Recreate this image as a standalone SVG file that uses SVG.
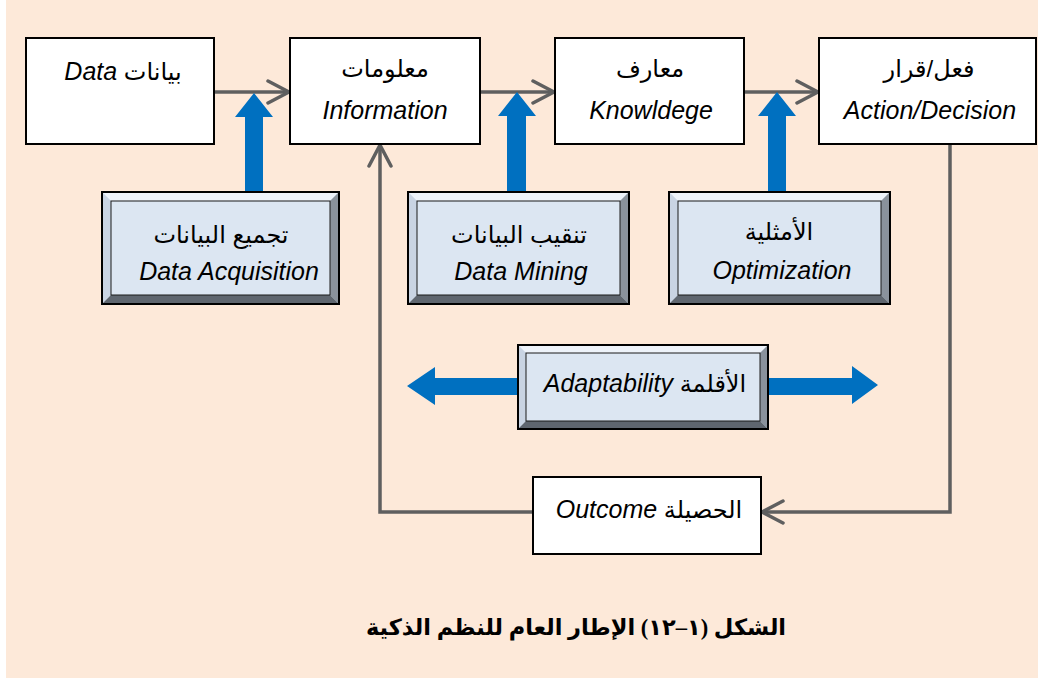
<svg xmlns="http://www.w3.org/2000/svg" width="1038" height="678" viewBox="0 0 1038 678">
  <style>
    .box { fill: #ffffff; stroke: #000000; stroke-width: 2; }
    .bev-out { fill: #dce6f2; stroke: #000000; stroke-width: 2; }
    .bev-in { fill: #dce6f2; stroke: #1a1a1a; stroke-width: 1; }
    .bt { fill: #eef3fa; }
    .bl { fill: #c9d4e3; }
    .br { fill: #8a929c; }
    .bb { fill: #5f666f; }
    .conn { fill: none; stroke: #5f5f5f; stroke-width: 3.5; }
    .blue { fill: #0070c0; }
    .t { font-family: "Liberation Sans", "DejaVu Sans", sans-serif; font-size: 24px; fill: #000000; text-anchor: middle; }
    .it { font-style: italic; font-size: 25px; }
    .cap { font-family: "Liberation Serif", "DejaVu Sans", serif; font-size: 22.5px; font-weight: bold; fill: #000000; text-anchor: middle; }
  </style>
  <defs>
    <marker id="chev" markerUnits="userSpaceOnUse" viewBox="0 0 26 26" markerWidth="26" markerHeight="26" refX="23" refY="13" orient="auto">
      <path d="M2,2 L23,13 L2,24" fill="none" stroke="#5f5f5f" stroke-width="3.5" stroke-linecap="round" stroke-linejoin="round"/>
    </marker>
  </defs>

  <rect x="0" y="0" width="1038" height="678" fill="#ffffff"/>
  <rect x="6" y="0" width="1032" height="678" fill="#fde9d9"/>

  <g id="connectors">
    <line class="conn" x1="214" y1="92" x2="289" y2="92" marker-end="url(#chev)"/>
    <line class="conn" x1="480" y1="92" x2="554" y2="92" marker-end="url(#chev)"/>
    <line class="conn" x1="745" y1="92" x2="818" y2="92" marker-end="url(#chev)"/>
    <polyline class="conn" points="950,145 950,512 762,512" marker-end="url(#chev)"/>
    <polyline class="conn" points="532,512 380,512 380,145" marker-end="url(#chev)"/>
    <polygon class="blue" points="245,193 245,117 235,117 254,93 273,117 263,117 263,193"/>
    <polygon class="blue" points="507,193 507,116 498,116 517,92 536,116 526,116 526,193"/>
    <polygon class="blue" points="768,193 768,116 758,116 777,92 796,116 786,116 786,193"/>
    <polygon class="blue" points="518,378 435,378 435,367 407,386 435,405 435,395 518,395"/>
    <polygon class="blue" points="768,378 852,378 852,366 878,385 852,404 852,395 768,395"/>
  </g>

  <g id="node-data">
    <rect class="box" x="26" y="38" width="188" height="106"/>
    <text class="t" x="123" y="80" direction="rtl">بيانات <tspan class="it">Data</tspan></text>
  </g>

  <g id="node-information">
    <rect class="box" x="290" y="38" width="190" height="106"/>
    <text class="t" x="385" y="77">معلومات</text>
    <text class="t it" x="385" y="119">Information</text>
  </g>

  <g id="node-knowledge">
    <rect class="box" x="555" y="38" width="189" height="106"/>
    <text class="t" x="650" y="77">معارف</text>
    <text class="t it" x="651" y="119">Knowldege</text>
  </g>

  <g id="node-action">
    <rect class="box" x="819" y="38" width="217" height="106"/>
    <text class="t" x="929" y="77">فعل/قرار</text>
    <text class="t it" x="930" y="119">Action/Decision</text>
  </g>

  <g id="node-acquisition">
    <rect class="bev-out" x="102" y="192" width="237" height="112"/>
    <polygon class="bt" points="102,192 339,192 330,201 111,201"/>
    <polygon class="bl" points="102,192 111,201 111,295 102,304"/>
    <polygon class="br" points="339,192 339,304 330,295 330,201"/>
    <polygon class="bb" points="102,304 339,304 330,295 111,295"/>
    <rect class="bev-in" x="111" y="201" width="219" height="94"/>
    <rect x="102" y="192" width="237" height="112" fill="none" stroke="#000" stroke-width="2"/>
    <text class="t" x="221" y="243">تجميع البيانات</text>
    <text class="t it" x="229" y="280">Data Acquisition</text>
  </g>

  <g id="node-mining">
    <rect class="bev-out" x="408" y="192" width="221" height="112"/>
    <polygon class="bt" points="408,192 629,192 620,201 417,201"/>
    <polygon class="bl" points="408,192 417,201 417,295 408,304"/>
    <polygon class="br" points="629,192 629,304 620,295 620,201"/>
    <polygon class="bb" points="408,304 629,304 620,295 417,295"/>
    <rect class="bev-in" x="417" y="201" width="203" height="94"/>
    <rect x="408" y="192" width="221" height="112" fill="none" stroke="#000" stroke-width="2"/>
    <text class="t" x="519" y="243">تنقيب البيانات</text>
    <text class="t it" x="521" y="280">Data Mining</text>
  </g>

  <g id="node-optimization">
    <rect class="bev-out" x="669" y="192" width="221" height="112"/>
    <polygon class="bt" points="669,192 890,192 881,201 678,201"/>
    <polygon class="bl" points="669,192 678,201 678,295 669,304"/>
    <polygon class="br" points="890,192 890,304 881,295 881,201"/>
    <polygon class="bb" points="669,304 890,304 881,295 678,295"/>
    <rect class="bev-in" x="678" y="201" width="203" height="94"/>
    <rect x="669" y="192" width="221" height="112" fill="none" stroke="#000" stroke-width="2"/>
    <text class="t" x="779" y="240">الأمثلية</text>
    <text class="t it" x="782" y="279">Optimization</text>
  </g>

  <g id="node-adaptability">
    <rect class="bev-out" x="518" y="345" width="250" height="84"/>
    <polygon class="bt" points="518,345 768,345 760,353 526,353"/>
    <polygon class="bl" points="518,345 526,353 526,421 518,429"/>
    <polygon class="br" points="768,345 768,429 760,421 760,353"/>
    <polygon class="bb" points="518,429 768,429 760,421 526,421"/>
    <rect class="bev-in" x="526" y="353" width="234" height="68"/>
    <rect x="518" y="345" width="250" height="84" fill="none" stroke="#000" stroke-width="2"/>
    <text class="t" x="645" y="392" direction="rtl">الأقلمة <tspan class="it">Adaptability</tspan></text>
  </g>

  <g id="node-outcome">
    <rect class="box" x="533" y="477" width="228" height="77"/>
    <text class="t" x="649" y="518" direction="rtl">الحصيلة <tspan class="it">Outcome</tspan></text>
  </g>

  <g id="caption">
    <text class="cap" x="576" y="635" direction="rtl">الشكل (١–١٢) الإطار العام للنظم الذكية</text>
  </g>
</svg>
